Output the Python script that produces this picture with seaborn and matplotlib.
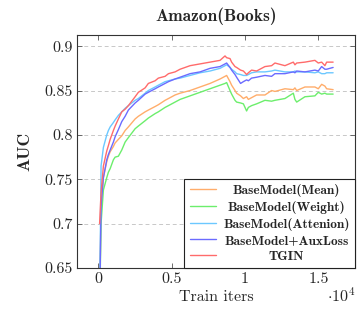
import pandas as pd
import matplotlib
matplotlib.use("Agg")
import matplotlib.pyplot as plt
import seaborn as sns
from matplotlib.ticker import FixedLocator, FuncFormatter

# iteraciones
iters = [100, 200, 360, 590, 700, 820, 1040, 1160, 1380, 1610, 1840, 2060, 2520, 2740,
         3200, 3420, 3880, 4100, 4560, 4790, 5240, 5580, 6260, 6940, 7620, 8300, 8640,
         8750, 8980, 9090, 9320, 9430, 9700, 9890, 10110, 10230, 10450, 10790, 11360,
         11810, 12040, 12720, 13290, 13400, 13520, 14080, 14760, 14990, 15220, 15440,
         15560, 16000]

auc_mean = [0.60, 0.72, 0.752, 0.770, 0.776, 0.781, 0.787, 0.791, 0.795, 0.799, 0.805,
            0.809, 0.818, 0.821, 0.826, 0.828, 0.832, 0.834, 0.839, 0.841, 0.845, 0.847,
            0.850, 0.854, 0.858, 0.863, 0.866, 0.867, 0.860, 0.856, 0.850, 0.847, 0.844,
            0.841, 0.843, 0.840, 0.842, 0.845, 0.845, 0.850, 0.849, 0.852, 0.851, 0.853,
            0.850, 0.854, 0.854, 0.852, 0.857, 0.855, 0.852, 0.851]

auc_weight = [0.60, 0.70, 0.738, 0.752, 0.758, 0.762, 0.772, 0.775, 0.776, 0.783, 0.792,
              0.797, 0.807, 0.810, 0.816, 0.819, 0.824, 0.826, 0.831, 0.833, 0.837, 0.840,
              0.844, 0.848, 0.852, 0.856, 0.858, 0.859, 0.850, 0.846, 0.839, 0.837, 0.836,
              0.835, 0.827, 0.831, 0.833, 0.835, 0.839, 0.838, 0.839, 0.841, 0.847, 0.840,
              0.837, 0.843, 0.844, 0.848, 0.846, 0.847, 0.846, 0.846]

auc_attention = [0.60, 0.765, 0.786, 0.800, 0.805, 0.809, 0.814, 0.817, 0.822, 0.826, 0.830,
                 0.833, 0.839, 0.841, 0.847, 0.850, 0.854, 0.856, 0.860, 0.861, 0.863, 0.864,
                 0.867, 0.870, 0.872, 0.875, 0.878, 0.879, 0.876, 0.874, 0.871, 0.869, 0.868,
                 0.867, 0.867, 0.868, 0.870, 0.871, 0.871, 0.872, 0.873, 0.871, 0.871, 0.872,
                 0.871, 0.871, 0.870, 0.871, 0.869, 0.869, 0.870, 0.870]

auc_auxloss = [0.60, 0.72, 0.752, 0.772, 0.778, 0.783, 0.792, 0.798, 0.806, 0.815, 0.821,
               0.828, 0.836, 0.839, 0.846, 0.848, 0.852, 0.854, 0.858, 0.860, 0.863, 0.865,
               0.869, 0.871, 0.875, 0.877, 0.880, 0.881, 0.876, 0.873, 0.868, 0.865, 0.858,
               0.860, 0.862, 0.861, 0.864, 0.865, 0.867, 0.866, 0.869, 0.869, 0.871, 0.870,
               0.872, 0.871, 0.873, 0.872, 0.877, 0.874, 0.874, 0.876]

auc_tgin = [0.700, 0.735, 0.765, 0.782, 0.788, 0.795, 0.805, 0.810, 0.818, 0.826, 0.829,
            0.833, 0.843, 0.848, 0.853, 0.858, 0.861, 0.864, 0.866, 0.869, 0.871, 0.874,
            0.878, 0.880, 0.882, 0.884, 0.889, 0.887, 0.886, 0.882, 0.877, 0.876, 0.873,
            0.872, 0.868, 0.870, 0.873, 0.872, 0.877, 0.878, 0.881, 0.878, 0.882, 0.879,
            0.881, 0.882, 0.884, 0.881, 0.882, 0.878, 0.882, 0.882]

model_names = ["BaseModel(Mean)", "BaseModel(Weight)", "BaseModel(Attenion)",
               "BaseModel+AuxLoss", "TGIN"]
series = [auc_mean, auc_weight, auc_attention, auc_auxloss, auc_tgin]
colors = ["#ffad6b", "#6cee6c", "#6cc8ff", "#6b6bff", "#ff6b6b"]

x_ticks = [0, 5000, 10000, 15000]
y_ticks = [0.65, 0.7, 0.75, 0.8, 0.85, 0.9]

df = pd.concat([pd.DataFrame({"iter": iters, "auc": v, "model": m})
                for m, v in zip(model_names, series)], ignore_index=True)

sns.set_style("ticks")
plt.rcParams["font.family"] = ["cmr10", "DejaVu Serif"]
plt.rcParams["mathtext.fontset"] = "cm"
plt.rcParams["axes.formatter.use_mathtext"] = True

fig, ax = plt.subplots(figsize=(3.57, 3.11), dpi=100)
fig.subplots_adjust(left=0.216, right=0.994, bottom=0.138, top=0.887)

sns.lineplot(data=df, x="iter", y="auc", hue="model", hue_order=model_names,
             palette=colors, estimator=None, sort=False, linewidth=1.0, ax=ax)

ax.set_xlim(-1430, 17480)
ax.set_ylim(0.65, 0.9124)
ax.xaxis.set_major_locator(FixedLocator(x_ticks))
ax.xaxis.set_major_formatter(FuncFormatter(lambda v, p: "%g" % (v / 1e4)))
ax.yaxis.set_major_locator(FixedLocator(y_ticks))
ax.yaxis.set_major_formatter(FuncFormatter(lambda v, p: "%g" % v))

ax.grid(axis="y", linestyle=(0, (4, 3)), color="#c8c8c8", linewidth=0.7)
ax.set_axisbelow(True)
ax.tick_params(direction="in", top=True, right=True, length=3.5, width=0.6,
               labelsize=11.5, pad=3, color="#555555")
for s in ax.spines.values():
    s.set_color("#333333")
    s.set_linewidth(0.8)

ax.set_title("Amazon(Books)", fontfamily="cmb10", fontsize=12.5, pad=10)
ax.set_xlabel("Train iters", fontsize=11.5, labelpad=3)
ax.set_ylabel("AUC", fontfamily="cmb10", fontsize=12.5)
ax.yaxis.set_label_coords(-0.16, 0.5)
ax.text(1.0, -0.116, r"$\cdot 10^4$", transform=ax.transAxes, ha="right", va="center",
        fontsize=11.5)

leg = ax.legend(loc="lower right", borderaxespad=0, fancybox=False, framealpha=1,
                edgecolor="#222222", prop={"family": "cmb10", "size": 9.6},
                handlelength=2.0, handletextpad=0.5, labelspacing=0.28,
                borderpad=0.4)
leg.get_frame().set_linewidth(0.8)

# centrar los textos de la leyenda
fig.canvas.draw()
texts = leg.get_texts()
widths = [t.get_window_extent().width for t in texts]
wmax = max(widths)
for t, w in zip(texts, widths):
    t.set_position(((wmax - w) / 2, 0))

fig.savefig("out.png", dpi=100)
